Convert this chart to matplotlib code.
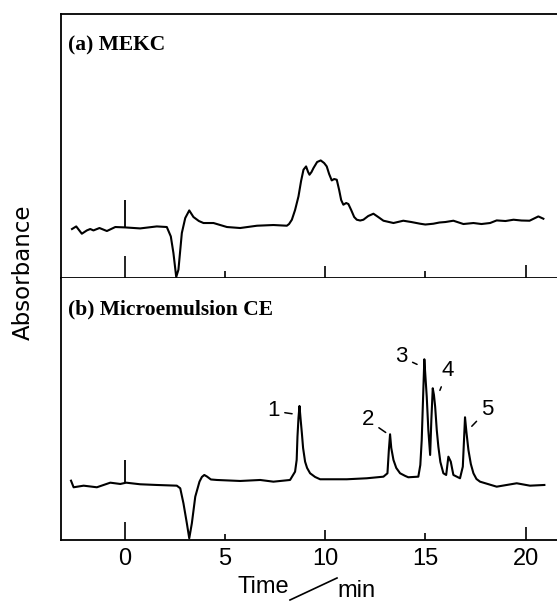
import matplotlib.pyplot as plt
from matplotlib.lines import Line2D

# (a) MEKC trace: time (min) and absorbance (arbitrary units)
mekc_time = [-2.63, -2.42, -2.14, -1.89, -1.72, -1.56, -1.26, -0.89, -0.47, 0.02,
             0.77, 1.6, 2.1, 2.3, 2.43, 2.57, 2.68, 2.85, 3.02, 3.22,
             3.43, 3.7, 3.93, 4.43, 5.1, 5.76, 6.6, 7.42, 8.09, 8.2,
             8.34, 8.5, 8.67, 8.8, 8.92, 9.05, 9.15, 9.22, 9.32, 9.42,
             9.6, 9.78, 9.95, 10.08, 10.2, 10.33, 10.45, 10.58, 10.7, 10.8,
             10.91, 11.05, 11.16, 11.3, 11.45, 11.58, 11.75, 11.91, 12.15, 12.41,
             12.65, 12.91, 13.41, 13.9, 14.3, 14.74, 15.0, 15.4, 15.7, 16.0,
             16.4, 16.9, 17.4, 17.8, 18.23, 18.56, 19.0, 19.4, 19.8, 20.2,
             20.64, 20.89]
mekc_abs = [49, 51.6, 44.3, 47.6, 49, 47.6, 50, 47, 51, 50.6,
            49.6, 51.6, 51, 41.6, 25, 1, 8.3, 45, 60, 67.6,
            61, 57, 55, 55, 51, 50, 52.3, 53, 52.3, 54,
            58.3, 68, 81.6, 97, 108.3, 111.6, 106, 103.3, 106, 110,
            116, 117.6, 115, 111.6, 104, 97.6, 99, 98.3, 88, 78,
            73.3, 75, 74, 68, 61, 58.3, 57.5, 58.3, 62, 64.3,
            61, 57.3, 55, 57.3, 56, 54.3, 53.5, 54.3, 55.5, 56,
            57.3, 54, 55, 54, 55, 57.6, 57, 58.3, 57.5, 57.3,
            61.6, 59.3]

# (b) Microemulsion CE trace
me_time = [-2.68, -2.55, -2.05, -1.39, -0.72, -0.22, 0.07, 0.77, 1.6, 2.6,
           2.77, 2.93, 3.1, 3.22, 3.35, 3.52, 3.73, 3.85, 3.97, 4.1,
           4.3, 4.6, 5.76, 6.76, 7.42, 8.25, 8.5, 8.58, 8.62, 8.67,
           8.72, 8.78, 8.84, 8.9, 9.0, 9.1, 9.25, 9.5, 9.75, 11.08,
           12.08, 12.91, 13.11, 13.18, 13.24, 13.3, 13.41, 13.55, 13.74, 14.0,
           14.15, 14.65, 14.75, 14.82, 14.9, 14.95, 15.0, 15.07, 15.15, 15.24,
           15.3, 15.37, 15.43, 15.49, 15.57, 15.65, 15.75, 15.9, 16.04, 16.1,
           16.15, 16.27, 16.35, 16.4, 16.73, 16.87, 16.93, 16.98, 17.05, 17.15,
           17.27, 17.4, 17.55, 17.73, 18.56, 19.56, 20.22, 20.94]
me_abs = [59.3, 52.7, 54.3, 52.7, 57.3, 56, 57.3, 55.7, 55, 54.3,
          51.7, 36.7, 16.7, 1.7, 16.7, 43.3, 58.3, 63, 65, 63.5,
          60.5, 60, 59, 60, 58.3, 60, 68.3, 80, 103.3, 122,
          134, 120, 106.7, 92, 78.3, 72, 66.7, 63, 60.7, 60.7,
          61.7, 63.3, 66.7, 90, 105.7, 92, 80, 72, 66.7, 64,
          62.7, 63.3, 75, 100, 150, 180.7, 165, 143.3, 110, 85,
          120, 151.7, 145, 133.3, 110, 93.3, 78, 66.7, 65, 75,
          83.3, 78.3, 70, 65, 61.7, 73.3, 100, 122.7, 108, 90,
          76, 66.7, 61, 58.3, 53.3, 56.7, 54.3, 55]

# injection mark at t = 0 (base on trace, top)
inject_base = [50.6, 57.3]
inject_top = [78, 80]

# peak numbers in (b)
peak_labels = ['1', '2', '3', '4', '5']
label_x = [7.4, 12.12, 13.79, 16.11, 18.1]
label_y = [129, 120, 183, 169, 130]
tip_x = [8.42, 13.08, 14.65, 15.7, 17.27]
tip_y = [126, 106.7, 175, 148.3, 112.7]

xticks = [0, 5, 10, 15, 20]
xtick_labels = ['0', '5', '10', '15', '20']

fig = plt.figure(figsize=(5.57, 6.04), dpi=100)
ax_a = fig.add_axes([0.1095, 0.5397, 0.8905, 0.4371])
ax_b = fig.add_axes([0.1095, 0.106, 0.8905, 0.4338])

panels = [(ax_a, mekc_time, mekc_abs, 264, [15.8, 5, 8.6, 5, 9.4], '(a) MEKC'),
          (ax_b, me_time, me_abs, 262, [13, 4.3, 7.2, 5, 9.4], '(b) Microemulsion CE')]

for i, (ax, t, a, ytop, tlen, title) in enumerate(panels):
    ax.plot(t, a, color='black', lw=1.5, solid_joinstyle='round')
    ax.vlines(0, inject_base[i], inject_top[i], color='black', lw=1.3)
    ax.set_xlim(-3.18, 21.57)
    ax.set_ylim(0, ytop)
    ax.set_yticks([])
    ax.set_xticks(xticks)
    ax.tick_params(axis='x', direction='in', width=1.2, top=False, pad=6)
    for tick, L in zip(ax.xaxis.get_major_ticks(), tlen):
        tick.tick1line.set_markersize(L)
    ax.spines['right'].set_visible(False)
    for s in ['left', 'top', 'bottom']:
        ax.spines[s].set_linewidth(1.3)
    ax.text(0.014, 0.88, title, transform=ax.transAxes, family='Liberation Serif',
            weight='bold', fontsize=15.5, va='center', ha='left')

ax_a.tick_params(axis='x', labelbottom=False)
ax_b.spines['top'].set_visible(False)
ax_b.set_xticklabels(xtick_labels, family='Liberation Sans', fontsize=17)

for lab, lx, ly, px, py in zip(peak_labels, label_x, label_y, tip_x, tip_y):
    ax_b.annotate(lab, xy=(px, py), xytext=(lx, ly), ha='center', va='center',
                  family='Liberation Sans', fontsize=16,
                  arrowprops=dict(arrowstyle='-', color='black', lw=1.1,
                                  shrinkA=2, shrinkB=1))

fig.text(0.041, 0.55, 'Absorbance', rotation=90, ha='center', va='center',
         family='DejaVu Sans', fontsize=16.5)
fig.text(237 / 557, 1 - 593 / 604, 'Time', ha='left', va='baseline',
         family='Liberation Sans', fontsize=17)
fig.text(337 / 557, 0.011, 'min', ha='left', va='baseline',
         family='Liberation Sans', fontsize=17)
fig.add_artist(Line2D([290 / 557, 337 / 557], [1 - 600 / 604, 1 - 578 / 604],
                      transform=fig.transFigure, color='black', lw=1.2))

fig.savefig('out.png', dpi=100)
